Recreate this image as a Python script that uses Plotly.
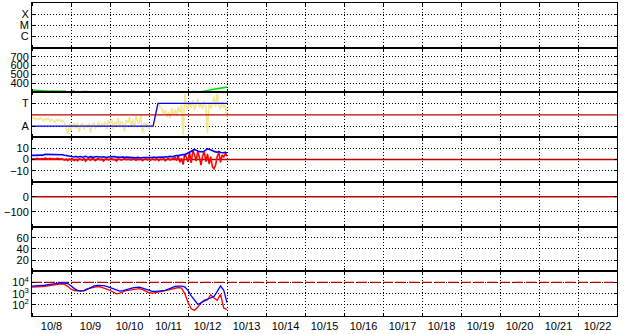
import pandas as pd
import numpy as np
import plotly.graph_objects as go
from plotly.subplots import make_subplots

# ---------------- data ----------------
start = "2023-10-08 00:00"
x_start = "2023-10-08 00:00"
x_end = "2023-10-23 00:00"
hours = pd.date_range(start, periods=121, freq="h")
hours2 = pd.date_range(start, periods=61, freq="2h")

# panel 2: solar wind speed (km/s)
speed = ([328, 326, 325, 327, 322, 320, 318, 319, 317, 316, 315, 314, 314, 313, 314, 312, 313, 314, 312, 313, 314, 313]
         + [None] * 3 + [320, 319] + [None] * 4 + [311, 310, 310, 311, 310] + [None] * 66
         + [303, 305, 307, 310, 315, 318, 322, 325, 330, 333, 338, 340, 343, 347, 350, 352, 355, 357, 359])

# panel 3: yellow (A=0, T=1)
yellow = ([0.35, 0.38, 0.30, 0.33, 0.28, 0.36, 0.30, 0.25, 0.32, 0.27, 0.35, 0.22, 0.30, 0.26, 0.18, 0.28, 0.24, 0.30, 0.20, 0.26, 0.15]
          + [-0.05, -0.35, 0.10, -0.20, 0.05]
          + [0.12, -0.10, 0.15, -0.25, 0.05, 0.10, -0.15, 0.08, -0.05, 0.12, -0.28, 0.02, 0.15, -0.10, 0.06, 0.18, -0.05, 0.10, 0.00, 0.20, -0.12]
          + [0.25, 0.10, 0.32, -0.15, 0.20, 0.05, 0.35, -0.05, 0.22, 0.12, -0.25, 0.28, 0.15, 0.40, 0.02, 0.30, -0.10, 0.45, 0.18, 0.10, 0.52, -0.30, 0.15, 0.05]
          + [0.08, -0.15, 0.12, -0.05, 0.05]
          + [0.40, 0.85, 1.00, 0.80]
          + [0.75, 0.55, 0.70, 0.40, 0.62, 0.35, 0.80, 0.50, 0.72, 0.45, 0.85, 0.60, 0.95, -0.40]
          + [1.40, 0.90, 0.75, 1.05, 0.80, 1.15, 0.70, 0.95, 1.20, 0.82, 1.00, 0.75, 1.10, 0.88, -0.30, 1.05, 0.78, 0.95, 1.30, 0.85, 1.45, 0.90, 0.75, 1.10, 0.80, 0.95, 0.40])

# panel 3: blue step level
step_times = ["2023-10-08 00:00", "2023-10-11 02:30", "2023-10-11 05:30", "2023-10-13 00:40"]
step_level = [0, 0, 1, 1]

# panel 4: Bt (blue) and Bz (red), nT
bt = ([3.7, 3.7, 3.8, 3.7, 3.7, 3.8, 3.7, 3.9]
      + [4.6, 4.6, 4.7, 4.6, 4.5, 4.6, 4.6, 4.7, 4.6, 4.5, 4.4, 4.3]
      + [3.8, 3.6, 3.4, 3.2, 3.0]
      + [2.5, 2.2, 2.8, 2.0, 2.4, 2.6, 2.1, 2.3, 2.9, 2.2, 2.0, 2.5, 2.3, 1.9, 2.4, 2.7, 2.2, 2.0, 2.3, 2.5, 2.1, 1.8, 2.2, 2.4, 2.0, 2.3, 2.6, 2.1, 1.9, 2.2, 2.0, 2.3, 1.8, 2.1, 2.0]
      + [1.8, 1.6, 2.0, 1.7, 1.5, 1.9, 1.6, 1.4, 1.8, 1.7, 2.0, 1.5, 1.6, 1.9, 1.8, 2.1, 1.7, 2.0, 2.2, 1.9, 2.3, 2.1, 2.5, 2.2, 2.6, 2.8, 2.5, 3.0]
      + [3.2, 3.6, 3.5, 4.0, 3.8, 4.5, 4.2, 5.0, 5.5]
      + [6.5, 7.8, 8.5, 9.0, 8.2, 7.5, 7.0, 7.2, 6.8, 7.5, 8.8, 9.6, 9.2, 8.5, 7.8, 7.2, 6.8, 6.5, 7.0, 6.2, 5.8, 6.0, 6.5, 5.9])
bz = ([0.5, 0.8, 0.3, 1.0, 0.6, 0.2, 0.9, 0.5, 1.2, 0.7, 0.4, 1.0, 0.6, 0.9, 0.3, 0.8, 1.1, 0.5, 0.7, 0.2, -0.5, 0.3, -1.0, 0.5, -0.3]
      + [0.4, -0.8, 0.2, -1.2, 0.6, 0.0, -0.5, 0.8, -1.5, 0.3, 0.5, -0.6, 0.9, 0.2, -1.0, 0.4, 0.7, -0.3, 0.5, -1.3, 0.2, 0.6, -0.4, 0.3, 0.8, -0.2, 0.1, -1.4, 0.5, 0.3, -0.6, 0.2, 0.7, -0.1, 0.4]
      + [0.3, -0.5, 0.6, 0.1, -0.8, 0.4, -0.2, 0.5, -1.0, 0.2, 0.6, -0.4, 0.3, -0.7, 0.5, 0.0, -0.3, 0.8, -0.9, 0.4, -0.2, 0.6, -1.2, 0.3, 0.9, -0.5, 0.4, 1.5]
      + [2.0, -1.0, 3.5, -2.5, 1.0, -4.5, 5.0, 2.0, -2.0, 6.0, -3.0, 8.0, 4.5, -1.5, 7.0, 2.0, -5.0, 3.5, 6.5, -2.0, 5.0, -4.0, 2.5, -6.5, -8.2, -5.0, 3.0, 6.0, -2.5, 4.0, 2.0, 5.5, 3.0])

# panel 7: fluxes (log10), 2-hourly
flux_blue_log = [3.67, 3.68, 3.70, 3.72, 3.75, 3.80, 3.85, 3.90, 3.93, 3.96,
                 3.95, 3.90, 3.70, 3.45, 3.30, 3.22, 3.25, 3.40, 3.55, 3.68,
                 3.73, 3.75, 3.72, 3.65, 3.55, 3.45, 3.32, 3.22, 3.28, 3.38,
                 3.45, 3.52, 3.57, 3.58, 3.50, 3.38, 3.25, 3.20, 3.20, 3.22,
                 3.25, 3.30, 3.40, 3.55, 3.65, 3.68, 3.68, 3.60, 3.30, 2.80,
                 2.40, 2.05, 2.15, 2.40, 2.50, 2.60, 2.75, 3.20, 3.70, 3.30,
                 2.20]
flux_red_log = [3.58, 3.58, 3.60, 3.62, 3.65, 3.70, 3.75, 3.80, 3.85, 3.87,
                3.82, 3.65, 3.40, 3.28, 3.25, 3.25, 3.30, 3.42, 3.50, 3.58,
                3.62, 3.60, 3.52, 3.40, 3.28, 3.10, 2.98, 3.05, 3.18, 3.28,
                3.32, 3.38, 3.42, 3.45, 3.35, 3.20, 3.08, 3.05, 3.08, 3.15,
                3.20, 3.28, 3.35, 3.45, 3.52, 3.55, 3.50, 3.00, 2.20, 1.65,
                1.50, 1.80, 2.20, 2.30, 2.45, 2.90, 2.60, 2.40, 2.95, 1.70,
                1.60]

# threshold levels
thr_p3 = 0.5
thr_p4 = 0
thr_p5 = 0
thr_p7 = 1e4

# axis labels
p1_vals, p1_text = [1, 2, 3], ["C", "M", "X"]
p2_vals = [400, 500, 600, 700]
p3_vals, p3_text = [0, 1], ["A", "T"]
p4_vals = [-10, 0, 10]
p5_vals = [-100, 0]
p6_vals = [20, 40, 60]
p7_vals, p7_text = [100, 1000, 10000], ["10<sup>2</sup>", "10<sup>3</sup>", "10<sup>4</sup>"]

# ---------------- figure ----------------
DARKRED = "#c00000"
BLUE = "#0000ff"
RED = "#ff0000"
GREEN = "#00e000"
YELLOW = "#f5e68f"
CLEAR = "rgba(0,0,0,0)"

fig = make_subplots(rows=7, cols=1, shared_xaxes=True, vertical_spacing=0)

full_x = [x_start, x_end]

# panel 1 (no data) - invisible placeholder so the axes are drawn
fig.add_trace(go.Scatter(x=full_x, y=[2, 2], mode="lines", line=dict(color=CLEAR, width=0), hoverinfo="skip"), row=1, col=1)

# panel 2
fig.add_trace(go.Scatter(x=hours, y=speed, mode="lines", line=dict(color=GREEN, width=1.6)), row=2, col=1)

# panel 3
fig.add_trace(go.Scatter(x=hours, y=yellow, mode="lines", line=dict(color=YELLOW, width=1.6)), row=3, col=1)
fig.add_trace(go.Scatter(x=full_x, y=[thr_p3] * 2, mode="lines", line=dict(color=DARKRED, width=1.3)), row=3, col=1)
fig.add_trace(go.Scatter(x=step_times, y=step_level, mode="lines", line=dict(color=BLUE, width=1.3)), row=3, col=1)

# panel 4
fig.add_trace(go.Scatter(x=full_x, y=[thr_p4] * 2, mode="lines", line=dict(color=DARKRED, width=1.3)), row=4, col=1)
fig.add_trace(go.Scatter(x=hours, y=bz, mode="lines", line=dict(color=RED, width=1.6)), row=4, col=1)
fig.add_trace(go.Scatter(x=hours, y=bt, mode="lines", line=dict(color=BLUE, width=1.6)), row=4, col=1)

# panel 5
fig.add_trace(go.Scatter(x=full_x, y=[thr_p5] * 2, mode="lines", line=dict(color=DARKRED, width=1.3)), row=5, col=1)

# panel 6 (no data) - invisible placeholder
fig.add_trace(go.Scatter(x=full_x, y=[40, 40], mode="lines", line=dict(color=CLEAR, width=0), hoverinfo="skip"), row=6, col=1)

# panel 7
fig.add_trace(go.Scatter(x=full_x, y=[thr_p7] * 2, mode="lines", line=dict(color=DARKRED, width=1.3, dash="10px,3px")), row=7, col=1)
fig.add_trace(go.Scatter(x=hours2, y=[10 ** v for v in flux_red_log], mode="lines", line=dict(color=RED, width=1.3)), row=7, col=1)
fig.add_trace(go.Scatter(x=hours2, y=[10 ** v for v in flux_blue_log], mode="lines", line=dict(color=BLUE, width=1.3)), row=7, col=1)

FONT = dict(family="Liberation Sans, Arial, sans-serif", size=11, color="black")
common_axis = dict(showline=True, linecolor="black", linewidth=1, mirror="ticks",
                   ticks="inside", ticklen=3, tickcolor="black",
                   showgrid=True, gridcolor="black", gridwidth=1, griddash="1px,2px",
                   zeroline=False, tickfont=FONT)

fig.update_xaxes(**common_axis, type="date", range=full_x, dtick=86400000, tick0=x_start,
                 tickformat="%-m/%-d", ticklabelmode="period", showticklabels=False)
fig.update_xaxes(showticklabels=True, row=7, col=1)

fig.update_yaxes(**common_axis)
fig.update_yaxes(range=[-0.05, 4.0], tickmode="array", tickvals=p1_vals, ticktext=p1_text, row=1, col=1)
fig.update_yaxes(range=[300, 800], tickmode="array", tickvals=p2_vals, row=2, col=1)
fig.update_yaxes(range=[-0.48, 1.48], tickmode="array", tickvals=p3_vals, ticktext=p3_text, row=3, col=1)
fig.update_yaxes(range=[-20, 20], tickmode="array", tickvals=p4_vals, row=4, col=1)
fig.update_yaxes(range=[-200, 100], tickmode="array", tickvals=p5_vals, row=5, col=1)
fig.update_yaxes(range=[0, 80], tickmode="array", tickvals=p6_vals, row=6, col=1)
fig.update_yaxes(type="log", range=[1, 5], tickmode="array", tickvals=p7_vals, ticktext=p7_text, row=7, col=1)

fig.update_layout(width=628, height=334, margin=dict(l=32, r=11, t=2, b=17),
                  paper_bgcolor="white", plot_bgcolor="white", showlegend=False,
                  font=FONT)

fig.write_html("out.html")
